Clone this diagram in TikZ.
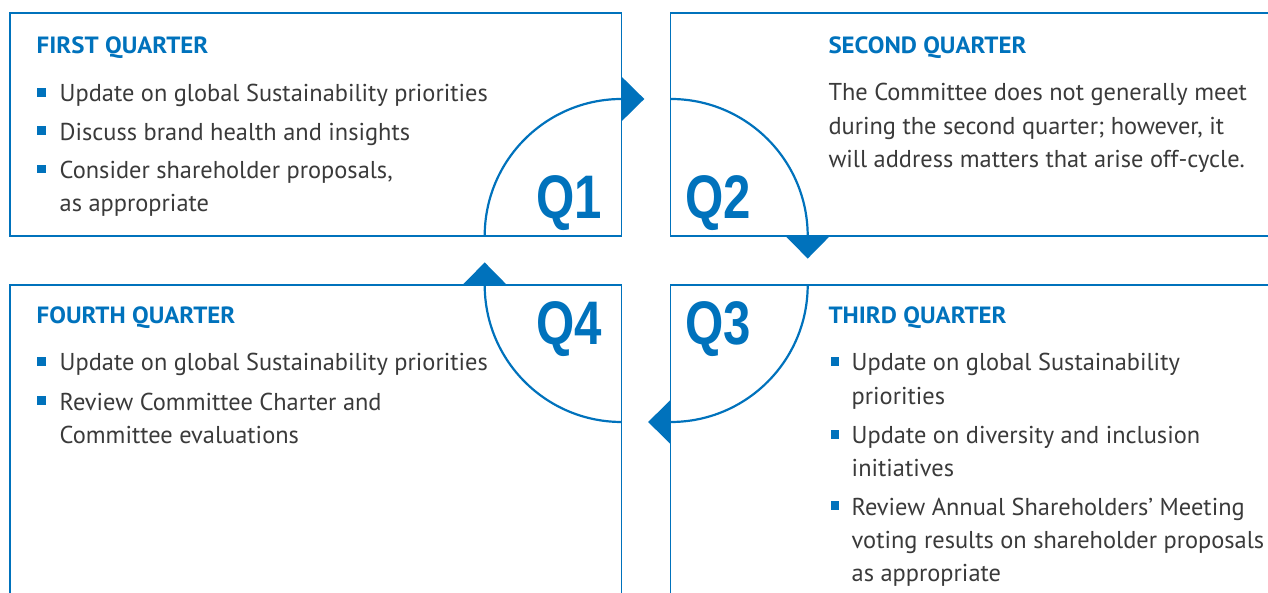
\documentclass[tikz,border=0pt]{standalone}
\usepackage{fontspec}
\usetikzlibrary{arrows.meta}
\newfontfamily\bodyfont{PT Sans}
\newfontfamily\headfont{PT Sans}[FakeStretch=1.06]
\newfontfamily\numfont{Liberation Sans}[FakeStretch=0.8]
\definecolor{qblue}{RGB}{0,114,188}
\definecolor{qgray}{RGB}{58,58,58}
% lines of an item, baseline on the first line
\newcommand{\qlines}[1]{\begin{tabular}[t]{@{}l@{}}#1\end{tabular}}

\begin{document}
\begin{tikzpicture}[
    x=1pt, y=1pt,
    qbox/.style={draw=qblue, line width=1.3pt},
    qhead/.style={anchor=base west, inner sep=0, text=qblue, font=\headfont\bfseries\fontsize{23.5}{28}\selectfont},
    qitem/.style={anchor=base west, inner sep=0, text=qgray, font=\bodyfont\fontsize{24.4}{33.3}\selectfont},
    qbul/.style={fill=qblue, minimum size=8.7pt, inner sep=0},
    qnum/.style={anchor=base west, inner sep=0, text=qblue, font=\numfont\bfseries\fontsize{61.5}{62}\selectfont},
    cyc/.style={draw=qblue, line width=2.2pt, -{Triangle[length=22.6pt, width=44pt]}}
]
    \useasboundingbox (0,0) rectangle (1268,593);
    \clip (0,0) rectangle (1268,593);

    % Quarter boxes
    \draw[qbox] (10,580) rectangle (621.7,357);
    \draw[qbox] (670.7,580) rectangle (1290,357);
    \draw[qbox] (670.7,308) rectangle (1290,-30);
    \draw[qbox] (10,308) rectangle (621.7,-30);

    % Corners the cycle turns round
    \coordinate (c1) at (621.7,357);
    \coordinate (c2) at (670.7,357);
    \coordinate (c3) at (670.7,308);
    \coordinate (c4) at (621.7,308);

    % Cycle arcs
    \draw[cyc] (c1) ++(180:137) arc[start angle=180, end angle=90, radius=137] -- ++(22.6,0);
    \draw[cyc] (c2) ++(90:137) arc[start angle=90, end angle=0, radius=137] -- ++(0,-22.6);
    \draw[cyc] (c3) ++(0:137) arc[start angle=0, end angle=-90, radius=137] -- ++(-22.6,0);
    \draw[cyc] (c4) ++(270:137) arc[start angle=270, end angle=180, radius=137] -- ++(0,22.6);

    % Quarter numbers
    \node[qnum] (n1) at (536,374) {Q1};
    \node[qnum] (n2) at (685,374) {Q2};
    \node[qnum] (n3) at (685,248) {Q3};
    \node[qnum] (n4) at (536,248) {Q4};

    % First quarter
    \node[qhead] (h1) at (36.5,539.7) {FIRST QUARTER};
    \foreach \yy/\txt [count=\i] in {491/{Update on global Sustainability priorities},
            452.7/{Discuss brand health and insights},
            414.4/{Consider shareholder proposals,\\as appropriate}} {
        \node[qbul] (b1\i) at (41.7,\yy+9.5) {};
        \node[qitem] (t1\i) at (59.5,\yy) {\qlines{\txt}};
    }

    % Second quarter
    \node[qhead] (h2) at (828.3,539.7) {SECOND QUARTER};
    \node[qitem] (t21) at (828.3,492) {\qlines{The Committee does not generally meet\\during the second quarter; however, it\\will address matters that arise off-cycle.}};

    % Third quarter
    \node[qhead] (h3) at (828.3,269.7) {THIRD QUARTER};
    \foreach \yy/\txt [count=\i] in {222/{Update on global Sustainability\\priorities},
            149.3/{Update on diversity and inclusion\\initiatives},
            77.7/{Review Annual Shareholders’ Meeting\\voting results on shareholder proposals\\as appropriate}} {
        \node[qbul] (b3\i) at (835,\yy+9.5) {};
        \node[qitem] (t3\i) at (851.5,\yy) {\qlines{\txt}};
    }

    % Fourth quarter
    \node[qhead] (h4) at (36.5,269.7) {FOURTH QUARTER};
    \foreach \yy/\txt [count=\i] in {222/{Update on global Sustainability priorities},
            182.7/{Review Committee Charter and\\Committee evaluations}} {
        \node[qbul] (b4\i) at (41.7,\yy+9.5) {};
        \node[qitem] (t4\i) at (59.5,\yy) {\qlines{\txt}};
    }
\end{tikzpicture}
\end{document}
